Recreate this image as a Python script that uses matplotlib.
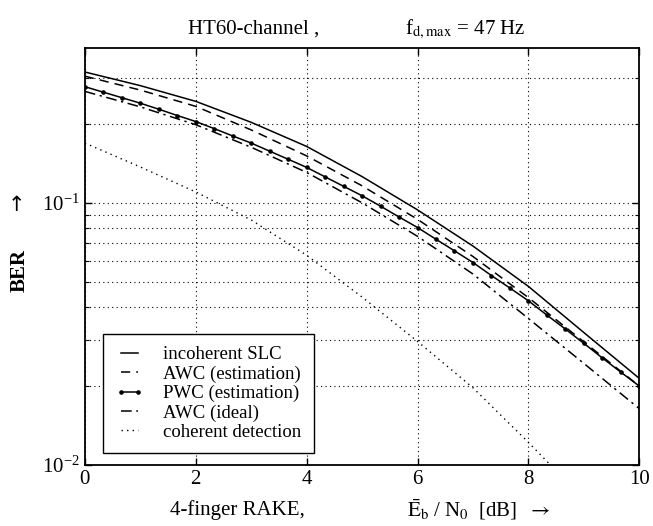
import matplotlib
matplotlib.use("Agg")
import matplotlib.pyplot as plt
from matplotlib.ticker import LogLocator, NullFormatter, FixedLocator

plt.rcParams["font.family"] = ["Liberation Serif", "DejaVu Serif"]
plt.rcParams["mathtext.fontset"] = "stix"

# Eb/N0 in dB
snr = [0, 1, 2, 3, 4, 5, 6, 7, 8, 9, 10]
# PWC curve is sampled every 1/3 dB (that's where the dots sit)
snr_pwc = [0, 1/3, 2/3, 1, 4/3, 5/3, 2, 7/3, 8/3, 3, 10/3, 11/3, 4, 13/3, 14/3, 5,
           16/3, 17/3, 6, 19/3, 20/3, 7, 22/3, 23/3, 8, 25/3, 26/3, 9, 28/3, 29/3, 10]

ber_slc = [0.3155, 0.2799, 0.2438, 0.2028, 0.1641, 0.1259, 0.0940, 0.0684, 0.0480, 0.0320, 0.0214]
ber_awc_est = [0.3041, 0.2692, 0.2333, 0.1897, 0.1510, 0.1161, 0.0865, 0.0624, 0.0435, 0.0295, 0.0200]
ber_pwc_est = [0.2773, 0.2642, 0.2518, 0.2399, 0.2275, 0.2153, 0.2042, 0.1919, 0.1799, 0.1690,
               0.1574, 0.1466, 0.1365, 0.1256, 0.1156, 0.1064, 0.0971, 0.0883, 0.0805, 0.0726,
               0.0656, 0.0592, 0.0528, 0.0473, 0.0423, 0.0373, 0.0330, 0.0291, 0.0256, 0.0226, 0.0200]
ber_awc_ideal = [0.2661, 0.2323, 0.1986, 0.1629, 0.1306, 0.1000, 0.0745, 0.0535, 0.0362, 0.0244, 0.0164]
ber_coherent = [0.169, 0.137, 0.110, 0.086, 0.0631, 0.0437, 0.0296, 0.0197, 0.0122, 0.0074, 0.0042]

labels = ["incoherent SLC", "AWC (estimation)", "PWC (estimation)", "AWC (ideal)", "coherent detection"]

fig = plt.figure(figsize=(6.53, 5.26), dpi=100)
ax = fig.add_axes([0.130, 0.116, 0.849, 0.793])

lw = 1.1
ax.plot(snr, ber_slc, color="black", lw=lw, label=labels[0])
ax.plot(snr, ber_awc_est, color="black", lw=lw, linestyle=(0, (6, 4)), label=labels[1])
ax.plot(snr_pwc, ber_pwc_est, color="black", lw=lw, marker="o", markersize=2.3, label=labels[2])
ax.plot(snr, ber_awc_ideal, color="black", lw=lw, linestyle=(0, (7, 3, 1.5, 3)), label=labels[3])
ax.plot(snr, ber_coherent, color="black", lw=1.0, linestyle=(0, (1, 3)), label=labels[4])

ax.set_yscale("log")
ax.set_xlim(0, 10)
ax.set_ylim(0.01, 0.39)
ax.set_xticks([0, 2, 4, 6, 8, 10])
ax.yaxis.set_major_locator(FixedLocator([0.01, 0.1]))
ax.yaxis.set_minor_locator(LogLocator(base=10, subs=range(2, 10)))
ax.yaxis.set_minor_formatter(NullFormatter())

ax.grid(True, which="both", color="black", linestyle=(0, (1, 3)), linewidth=0.8)
ax.tick_params(which="both", direction="in", top=True, right=True, labelsize=15)
ax.tick_params(which="major", length=5, width=1)
ax.tick_params(which="minor", length=3, width=0.8)
for s in ax.spines.values():
    s.set_linewidth(1.3)

leg = ax.legend(loc="lower left", bbox_to_anchor=(0.0325, 0.029), borderaxespad=0,
                fancybox=False, edgecolor="black", fontsize=13.5, handlelength=1.5,
                handletextpad=1.07, numpoints=2, labelspacing=0.11, borderpad=0.65,
                framealpha=1)
leg.get_frame().set_linewidth(1.0)

# title made of two pieces
fig.text(254 / 653, 1 - 29 / 526, "HT60-channel ,", ha="center", va="center", fontsize=15)
fig.text(465 / 653, 1 - 29 / 526, r"f$_{\mathrm{d,max}}$ = 47 Hz", ha="center", va="center", fontsize=15)

# y label: BER with arrow
fig.text(20 / 653, 1 - 270 / 526, "BER", rotation=90, ha="center", va="center",
         fontsize=15, fontweight="bold")
fig.text(16 / 653, 1 - 205 / 526, "↑", ha="center", va="center", fontsize=15,
         family=["DejaVu Sans"])

# x label
fig.text(237 / 653, 1 - 510 / 526, "4-finger RAKE,", ha="center", va="center", fontsize=15)
fig.text(479 / 653, 1 - 510 / 526, r"$\bar{\mathrm{E}}_{\mathrm{b}}$ / N$_0$  [dB]  $\rightarrow$",
         ha="center", va="center", fontsize=15)

fig.savefig("out.png", dpi=100)
